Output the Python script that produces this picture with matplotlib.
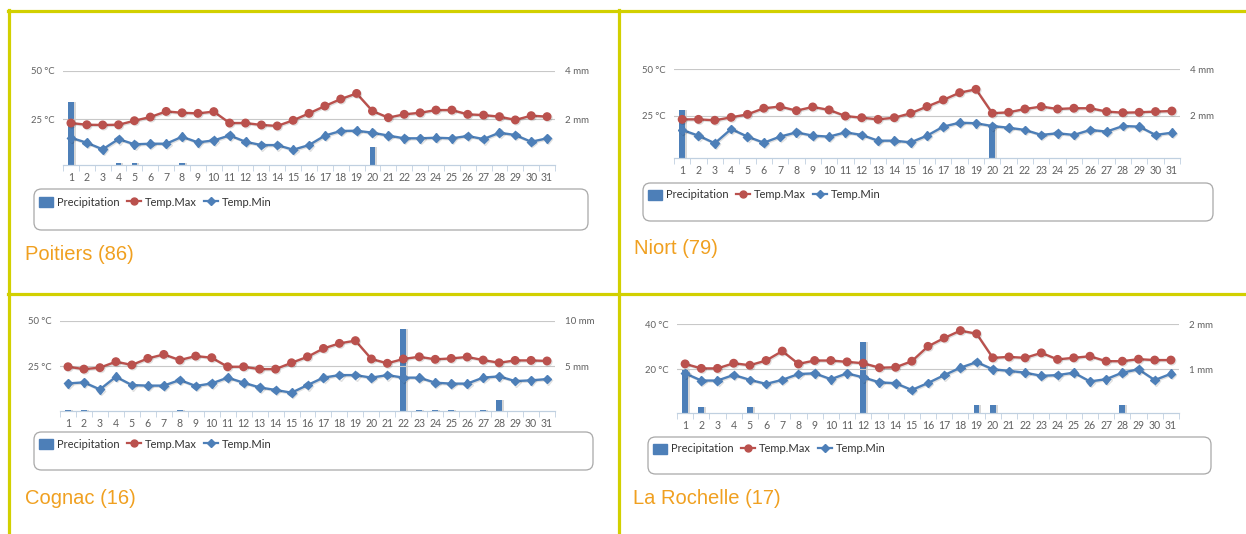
import matplotlib
matplotlib.use("Agg")
import matplotlib.pyplot as plt
import matplotlib.patheffects as pe
from matplotlib.lines import Line2D
from matplotlib.patches import Patch, FancyBboxPatch
import numpy as np

W, H = 1246, 534

days = list(range(1, 32))

poitiers_tmax = [23.1, 22.2, 22.1, 22.2, 24.3, 26.2, 29.1, 28.4, 28.1, 29.0, 23.1, 23.1, 22.1, 21.6, 24.5, 28.1,
                 31.9, 35.5, 38.4, 29.3, 25.9, 27.6, 28.4, 29.8, 29.8, 27.6, 27.2, 26.4, 24.7, 26.9, 26.4]
poitiers_tmin = [15.5, 12.9, 9.5, 14.8, 12.1, 12.4, 12.4, 16.0, 13.1, 14.1, 16.7, 13.4, 11.7, 11.7, 9.3, 11.7,
                 16.6, 19.0, 19.1, 18.1, 16.6, 15.2, 15.2, 15.5, 15.2, 16.4, 14.8, 18.1, 16.9, 13.4, 15.2]
poitiers_precip = [2.7, 0, 0, 0.2, 0.2, 0, 0, 0.2, 0, 0, 0, 0, 0, 0, 0, 0,
                   0, 0, 0, 0.85, 0, 0, 0, 0, 0, 0, 0, 0, 0.12, 0, 0]

niort_tmax = [23.0, 23.0, 22.5, 24.1, 25.7, 29.0, 29.9, 27.7, 29.7, 28.1, 24.8, 23.9, 23.0, 23.9, 26.3, 29.9,
              33.5, 37.4, 39.2, 26.3, 26.8, 28.6, 29.9, 28.6, 29.0, 29.0, 27.2, 26.6, 26.8, 27.2, 27.5]
niort_tmin = [17.3, 14.2, 10.1, 17.8, 13.7, 10.4, 13.7, 16.0, 14.2, 13.7, 16.0, 14.6, 11.5, 11.5, 10.6, 14.2,
              19.1, 21.2, 20.9, 19.4, 18.5, 17.3, 14.6, 15.5, 14.6, 17.3, 16.4, 19.4, 19.1, 14.6, 15.8]
niort_precip = [2.25, 0.12, 0, 0.12, 0, 0, 0, 0.12, 0, 0.12, 0, 0.12, 0, 0, 0, 0,
                0, 0, 0.12, 1.53, 0, 0, 0, 0.12, 0, 0, 0, 0, 0, 0, 0]

cognac_tmax = [24.6, 23.3, 24.1, 27.4, 25.6, 29.2, 31.4, 28.3, 30.5, 29.6, 24.6, 24.6, 23.3, 23.3, 26.8, 30.1,
               34.7, 37.5, 39.0, 28.9, 26.5, 28.9, 30.1, 28.7, 29.2, 30.0, 28.3, 26.8, 28.1, 28.1, 27.8]
cognac_tmin = [15.4, 16.0, 12.1, 19.1, 14.5, 14.2, 14.2, 17.3, 14.0, 15.4, 18.6, 15.8, 13.2, 11.8, 10.3, 14.5,
               18.6, 20.0, 20.0, 18.6, 20.0, 18.6, 18.6, 15.8, 15.3, 15.3, 18.6, 19.3, 16.7, 17.1, 17.8]
cognac_precip = [0.1, 0.1, 0, 0, 0, 0, 0, 0.1, 0, 0, 0, 0, 0, 0, 0, 0,
                 0, 0, 0, 0, 0, 9.1, 0.1, 0.1, 0.1, 0, 0.1, 1.3, 0, 0, 0]

larochelle_tmax = [22.4, 20.4, 20.4, 22.7, 21.8, 23.9, 28.1, 22.4, 23.9, 23.9, 23.3, 22.7, 20.7, 20.9, 23.6, 30.2,
                   33.9, 37.2, 35.8, 25.1, 25.5, 25.1, 27.3, 24.4, 25.1, 25.8, 23.6, 23.6, 24.5, 24.1, 24.1]
larochelle_tmin = [18.2, 15.0, 15.0, 17.5, 15.3, 13.5, 15.3, 17.9, 18.2, 15.6, 18.2, 16.4, 14.2, 13.8, 10.8, 13.9,
                   17.4, 20.7, 23.2, 20.0, 19.3, 18.5, 17.1, 17.4, 18.5, 14.6, 15.6, 18.5, 20.0, 15.2, 18.0]
larochelle_precip = [0.98, 0.17, 0, 0, 0.17, 0, 0, 0, 0, 0, 0, 1.6, 0, 0, 0, 0,
                     0, 0, 0.2, 0.2, 0, 0, 0, 0, 0, 0, 0, 0.2, 0, 0, 0]

titles = ["Poitiers (86)", "Niort (79)", "Cognac (16)", "La Rochelle (17)"]

BLUE = "#4D7FB8"
RED = "#BA514D"
GRID = "#C8C8C8"
TXT = "#606060"
ORANGE = "#F0A020"
YELLOW = "#D2D000"
FONT = "Lato"

fig = plt.figure(figsize=(W / 100, H / 100), dpi=100)
fig.patch.set_facecolor("white")


def fx(x):
    return x / W


def fy(y):
    return 1 - y / H


def panel(tmax, tmin, precip, title, left, right, top, bottom, ymin, ytop, mm_top,
          box, leg_y, title_xy):
    ax = fig.add_axes([fx(left), fy(bottom), (right - left) / W, (bottom - top) / H])
    ax2 = ax.twinx()
    ax.set_zorder(ax2.get_zorder() + 1)
    ax.patch.set_visible(False)

    k = mm_top / ytop
    ax2.bar(np.array(days) + 0.12, precip, width=0.36, color="#D8D8D8", zorder=1)
    ax2.bar(days, precip, width=0.36, color=BLUE, zorder=2)
    ax2.set_ylim(ymin * k, mm_top)
    ax2.set_yticks([mm_top / 2, mm_top])
    ax2.set_yticklabels([f"{mm_top / 2:g} mm", f"{mm_top:g} mm"])

    shadow = [pe.SimpleLineShadow(offset=(0.8, -0.8), alpha=0.12, shadow_color="k"), pe.Normal()]
    ax.plot(days, tmax, color=RED, lw=1.7, marker="o", ms=5.4, zorder=4, path_effects=shadow)
    ax.plot(days, tmin, color=BLUE, lw=1.7, marker="D", ms=4.4, zorder=4, path_effects=shadow)

    ax.set_xlim(0.5, 31.5)
    ax.set_ylim(ymin, ytop)
    ax.set_yticks([ytop / 2, ytop])
    ax.set_yticklabels([f"{ytop / 2:g} °C", f"{ytop:g} °C"])
    for v in [ytop / 2, ytop]:
        ax.axhline(v, color=GRID, lw=0.8, zorder=0)

    ax.set_xticks(days)
    ax.set_xticklabels([str(d) for d in days])
    ax.set_xticks(np.arange(0.5, 32.5, 1), minor=True)
    ax.tick_params(axis="x", which="major", length=0, pad=5, labelsize=7.6, labelcolor=TXT)
    ax.tick_params(axis="x", which="minor", length=4, color="#C0D0E0", direction="out")
    ax.tick_params(axis="y", length=0, pad=6, labelsize=6.8, labelcolor=TXT)
    ax2.tick_params(axis="y", length=0, pad=7, labelsize=7.0, labelcolor=TXT)
    for a in (ax, ax2):
        for s in ["top", "left", "right"]:
            a.spines[s].set_visible(False)
        a.spines["bottom"].set_color("#C0D0E0")
        for lab in a.get_xticklabels() + a.get_yticklabels():
            lab.set_fontfamily(FONT)

    bx0, by0, bx1, by1 = box
    fig.add_artist(FancyBboxPatch((fx(bx0), fy(by1)), (bx1 - bx0) / W, (by1 - by0) / H,
                                  boxstyle="round,pad=0,rounding_size=0.006",
                                  transform=fig.transFigure, facecolor="white",
                                  edgecolor="#A8A8A8", lw=0.9, mutation_aspect=W / H))
    handles = [Patch(facecolor=BLUE, edgecolor=BLUE),
               Line2D([], [], color=RED, lw=1.6, marker="o", ms=5),
               Line2D([], [], color=BLUE, lw=1.6, marker="D", ms=4)]
    leg = fig.legend(handles, ["Precipitation", "Temp.Max", "Temp.Min"], loc="center left",
                     bbox_to_anchor=(fx(bx0 + 5), fy(leg_y)), ncol=3, frameon=False,
                     prop={"family": FONT, "size": 8}, handlelength=1.3, handleheight=1.0,
                     handletextpad=0.35, columnspacing=0.6, borderpad=0, borderaxespad=0)
    for t in leg.get_texts():
        t.set_color("#333333")

    fig.text(fx(title_xy[0]), fy(title_xy[1]), title, color=ORANGE, fontsize=14.5,
             family="Liberation Sans", ha="left", va="center")


panel(poitiers_tmax, poitiers_tmin, poitiers_precip, titles[0], 63, 555, 71, 165, 1.4, 50, 4,
      (34, 189, 588, 230), 202, (25, 255))
panel(niort_tmax, niort_tmin, niort_precip, titles[1], 674, 1180, 69.3, 158.3, 2.0, 50, 4,
      (643, 183, 1213, 221), 195, (634, 248))
panel(cognac_tmax, cognac_tmin, cognac_precip, titles[2], 60, 555, 320.7, 411, 0.2, 50, 10,
      (34, 432, 593, 470), 444, (25, 498))
panel(larochelle_tmax, larochelle_tmin, larochelle_precip, titles[3], 677, 1179, 324.3, 412.7, 0.7, 40, 2,
      (648, 437, 1211, 474), 449, (633, 498))

# yellow frame
lw = 2.3
fig.add_artist(Line2D([fx(8), 1], [fy(10.5), fy(10.5)], color=YELLOW, lw=lw, transform=fig.transFigure))
fig.add_artist(Line2D([fx(8), 1], [fy(293.5), fy(293.5)], color=YELLOW, lw=lw, transform=fig.transFigure))
fig.add_artist(Line2D([fx(9), fx(9)], [fy(10), 0], color=YELLOW, lw=lw, transform=fig.transFigure))
fig.add_artist(Line2D([fx(618.5), fx(618.5)], [fy(10), 0], color=YELLOW, lw=lw, transform=fig.transFigure))

fig.savefig("out.png", dpi=100)
